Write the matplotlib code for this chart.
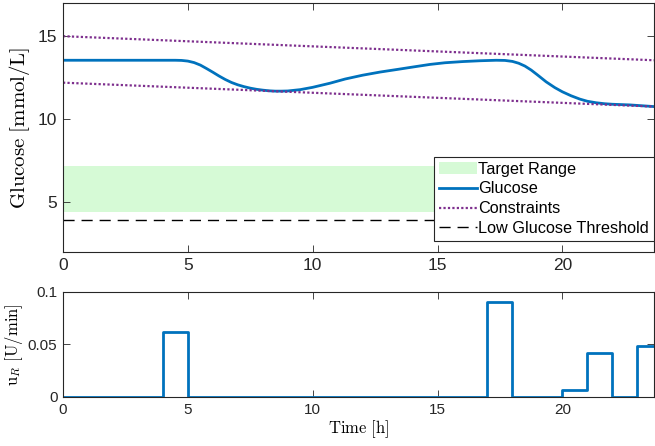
"""
Glucose trajectory with MPC constraints and the insulin input below it.
"""

import numpy as np
import matplotlib.pyplot as plt

# glucose trajectory [mmol/L]
t_glu = [0, 1, 2, 3, 4, 4.5, 4.75, 5.0, 5.25, 5.5, 5.75, 6.0, 6.25, 6.5,
         6.75, 7.0, 7.25, 7.5, 7.75, 8.0, 8.25, 8.5, 8.75, 9.0, 9.5, 10.0,
         10.7, 11.3, 12.0, 12.7, 13.4, 14.0, 14.7, 15.3, 16.0, 16.7, 17.35,
         17.7, 18.0, 18.25, 18.5, 18.75, 19.0, 19.35, 19.7, 20.0, 20.35,
         20.7, 21.0, 21.35, 21.7, 22.0, 22.7, 23.67]
glucose = [13.55, 13.55, 13.55, 13.55, 13.55, 13.55, 13.54, 13.5, 13.41,
           13.26, 13.05, 12.83, 12.6, 12.39, 12.21, 12.07, 11.96, 11.87,
           11.8, 11.75, 11.71, 11.69, 11.69, 11.7, 11.78, 11.92, 12.17,
           12.42, 12.65, 12.84, 13.0, 13.14, 13.3, 13.4, 13.47, 13.52,
           13.55, 13.54, 13.48, 13.37, 13.2, 12.96, 12.67, 12.25, 11.9,
           11.65, 11.41, 11.21, 11.08, 10.99, 10.93, 10.9, 10.86, 10.76]

# soft constraint bounds (start and end of horizon)
t_con = [0, 23.67]
upper_con = [15.0, 13.55]
lower_con = [12.2, 10.76]

target_low, target_high = 4.4, 7.2
low_threshold = 3.9

# insulin rate u_R [U/min], piecewise constant
t_u = [0, 4, 5, 17, 18, 20, 21, 22, 23, 23.67]
u_r = [0, 0.062, 0, 0.09, 0, 0.007, 0.042, 0, 0.049, 0.049]

blue = "#0072BD"
purple = "#7E2F8E"
green = "#d6fad6"
axis_gray = "#262626"

plt.rcParams["mathtext.fontset"] = "cm"
plt.rcParams["font.family"] = ["Liberation Sans", "DejaVu Sans"]

fig = plt.figure(figsize=(6.55, 4.46), dpi=100)
ax1 = fig.add_axes([0.0962, 0.435, 0.9023, 0.5583])
ax2 = fig.add_axes([0.0962, 0.1099, 0.9023, 0.2354])

t_end = t_con[-1]

ax1.fill_between([0, t_end], target_low, target_high, color=green,
                 linewidth=0, label="Target Range")
ax1.plot(t_glu, glucose, color=blue, linewidth=2, label="Glucose")
ax1.plot(t_con, upper_con, color=purple, linestyle=(0, (1, 1)),
         linewidth=1.6, label="Constraints")
ax1.plot(t_con, lower_con, color=purple, linestyle=(0, (1, 1)),
         linewidth=1.6)
ax1.plot([0, t_end], [low_threshold, low_threshold], color="black",
         linestyle=(0, (8, 5)), linewidth=1, label="Low Glucose Threshold")

ax1.set_xlim(0, t_end)
ax1.set_ylim(2, 17)
ax1.set_xticks([0, 5, 10, 15, 20])
ax1.set_yticks([5, 10, 15])
ax1.set_ylabel(r"$\mathrm{Glucose\ [mmol/L]}$", fontsize=15, labelpad=4)

leg = ax1.legend(loc="lower right", bbox_to_anchor=(1.0, 0.044),
                 fontsize=11.7, frameon=True, fancybox=False,
                 borderpad=0.3, labelspacing=0.3, handlelength=2.35,
                 handletextpad=0.1, borderaxespad=0.0)
leg.get_frame().set_edgecolor(axis_gray)
leg.get_frame().set_linewidth(0.8)
leg.get_frame().set_alpha(1)

ax2.step(t_u, u_r, where="post", color=blue, linewidth=2)
ax2.set_xlim(0, t_end)
ax2.set_ylim(0, 0.1)
ax2.set_xticks([0, 5, 10, 15, 20])
ax2.set_yticks([0, 0.05, 0.1])
ax2.set_yticklabels(["0", "0.05", "0.1"])
ax2.set_ylabel(r"$\mathrm{u}_R\ \mathrm{[U/min]}$", fontsize=12, labelpad=2)
ax2.set_xlabel(r"$\mathrm{Time\ [h]}$", fontsize=12, labelpad=1)

for ax, size in ((ax1, 12.5), (ax2, 11)):
    ax.tick_params(direction="in", top=True, right=True, length=5,
                   width=0.6, colors=axis_gray, labelsize=size, pad=4)
    for s in ax.spines.values():
        s.set_color(axis_gray)
        s.set_linewidth(0.8)

fig.savefig("out.png", dpi=100)
